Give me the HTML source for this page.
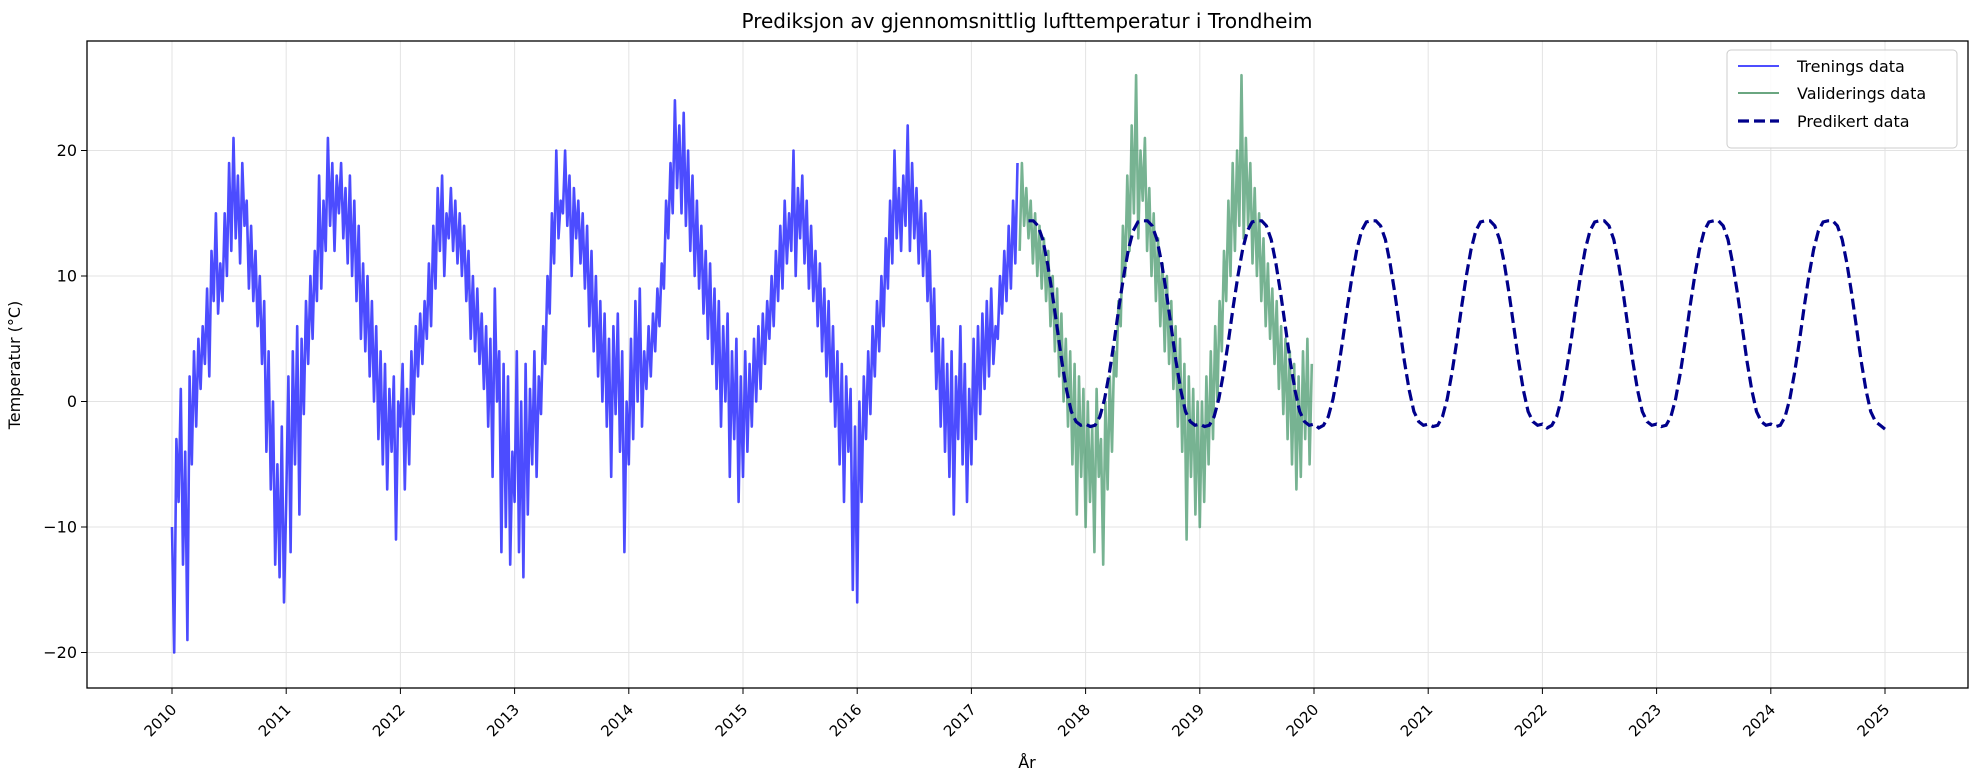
<!DOCTYPE html>
<html><head><meta charset="utf-8"><style>
body{margin:0;background:#fff;}
svg{display:block;font-family:"DejaVu Sans","Liberation Sans",sans-serif;}
</style></head><body>
<svg id="chart" width="1982" height="782" viewBox="0 0 1982 782">
<text x="1027" y="28" font-size="20" text-anchor="middle" fill="#000">Prediksjon av gjennomsnittlig lufttemperatur i Trondheim</text>
<g id="grid"></g>
<g id="series"></g>
<rect x="87" y="41" width="1881" height="647" fill="none" stroke="#000" stroke-width="1.3"/>
<g id="axes"></g>
<text x="1027" y="768" font-size="16" text-anchor="middle">År</text>
<text transform="translate(20,365) rotate(-90)" font-size="16" text-anchor="middle">Temperatur (°C)</text>
<g>
<rect x="1727" y="50" width="230" height="98" rx="4" fill="#fff" fill-opacity="0.85" stroke="#ccc"/>
<g><line x1="1738" y1="66" x2="1779" y2="66" stroke="#4d4dff" stroke-width="2"/><text x="1797" y="72" font-size="16">Trenings data</text></g>
<g><line x1="1738" y1="93" x2="1779" y2="93" stroke="#6aa680" stroke-width="2"/><text x="1797" y="99" font-size="16">Validerings data</text></g>
<g><line x1="1738" y1="121" x2="1779" y2="121" stroke="#00008b" stroke-width="3.2" stroke-dasharray="11 5"/><text x="1797" y="127" font-size="16">Predikert data</text></g>
</g>
</svg>
<script>
const xTicks=[2010,2011,2012,2013,2014,2015,2016,2017,2018,2019,2020,2021,2022,2023,2024,2025];
const yTicks=[-20,-10,0,10,20];
const trainStart=2010.0;
const trainWeekly=[
-10,-20,-3,-8,1,-13,-4,-19,2,-5,4,-2,5,1,6,3,9,2,12,8,15,7,11,8,15,10,19,12,21,13,18,11,19,14,16,9,14,8,12,6,10,3,8,-4,4,-7,0,-13,-5,-14,-2,-16,
-8,2,-12,4,-5,6,-9,5,-1,8,3,10,5,12,8,18,9,16,12,21,14,19,12,18,15,19,13,17,11,18,10,16,8,14,5,11,4,10,2,8,0,6,-3,4,-5,3,-7,1,-4,2,-11,0,
-2,3,-7,1,-5,4,-1,6,2,7,3,8,5,11,6,14,9,17,12,18,10,15,13,17,12,16,11,15,10,14,8,12,5,10,4,9,3,7,1,6,-2,5,-6,9,0,4,-12,3,-10,2,-13,-4,
-8,4,-12,0,-14,3,-9,1,-5,4,-6,2,-1,6,3,10,7,15,11,20,13,16,15,20,14,18,10,17,13,16,11,15,9,14,6,12,4,10,2,8,0,7,-2,5,-6,6,-1,7,-4,4,-12,0,
-5,5,-3,8,0,9,-2,4,1,6,2,7,4,9,6,11,9,16,13,19,15,24,17,22,15,23,14,20,12,18,10,16,9,14,7,12,5,11,3,9,1,8,-2,6,0,7,-6,4,-3,5,-8,2,
-6,4,-4,3,-2,5,0,6,1,7,3,8,5,10,6,12,8,14,9,16,11,15,12,20,10,17,13,18,11,16,9,14,8,12,6,11,4,9,2,8,0,6,-2,4,-5,3,-8,2,-4,1,-15,-2,
-16,0,-8,2,-3,4,-1,6,2,8,4,10,6,13,9,16,11,20,13,17,12,18,14,22,12,19,13,17,11,16,10,15,8,12,4,9,1,6,-2,5,-4,3,-6,4,-9,2,-3,6,-5,3,-8,1,
-5,5,-3,6,-1,7,1,8,2,9,3,6,5,10,7,12,8,14,9,16,11,19];
const valWeekly=[
12,19,14,17,13,16,11,15,10,14,9,13,8,12,6,10,4,9,2,7,0,5,-2,4,-5,3,-9,2,-6,1,
-10,0,-8,-2,-12,1,-6,-3,-13,0,-7,2,-4,4,2,8,6,14,10,18,12,22,15,26,13,20,16,21,12,17,10,15,8,13,6,11,4,10,3,8,1,6,-2,5,-4,3,-11,2,-6,1,-9,0,
-10,0,-8,2,-5,4,-3,6,0,8,4,12,8,16,10,19,12,20,14,26,13,21,14,19,11,17,10,15,8,13,6,11,5,9,3,8,1,6,-1,5,-3,4,-5,3,-7,2,-6,4,-3,5,-5,3];
const predStart=2017.5;
const predValues=[
14.4,14.4,14.0,12.9,11.0,8.6,5.9,3.2,0.9,-0.8,-1.6,-1.9,
-1.8,-2.0,-1.9,-1.2,0.2,2.3,4.8,7.5,10.0,12.1,13.6,14.3,14.4,14.4,14.0,12.9,11.0,8.6,5.9,3.2,0.9,-0.8,-1.6,-1.9,
-1.8,-2.0,-1.9,-1.2,0.2,2.3,4.8,7.5,10.0,12.1,13.6,14.3,14.4,14.4,14.0,12.9,11.0,8.6,5.9,3.2,0.9,-0.8,-1.6,-1.9,
-1.8,-2.1,-1.9,-1.2,0.2,2.3,4.8,7.5,10.0,12.1,13.6,14.3,14.4,14.4,14.0,12.9,11.0,8.6,5.9,3.2,0.9,-0.8,-1.6,-1.9,
-1.8,-2.0,-1.9,-1.2,0.2,2.3,4.8,7.5,10.0,12.1,13.6,14.3,14.4,14.4,14.0,12.9,11.0,8.6,5.9,3.2,0.9,-0.8,-1.6,-1.9,
-1.8,-2.1,-1.9,-1.2,0.2,2.3,4.8,7.5,10.0,12.1,13.6,14.3,14.4,14.4,14.0,12.9,11.0,8.6,5.9,3.2,0.9,-0.8,-1.6,-1.9,
-1.8,-2.0,-1.9,-1.2,0.2,2.3,4.8,7.5,10.0,12.1,13.6,14.3,14.4,14.4,14.0,12.9,11.0,8.6,5.9,3.2,0.9,-0.8,-1.6,-1.9,
-1.8,-2.0,-1.9,-1.2,0.2,2.3,4.8,7.5,10.0,12.1,13.6,14.3,14.4,14.4,14.0,12.9,11.0,8.6,5.9,3.2,0.9,-0.8,-1.6,-1.9,
-2.2];

const NS='http://www.w3.org/2000/svg';
const X0=172, PXY=114.2, Y0=401.5, PXD=12.55;
function xs(t){return X0+(t-2010)*PXY;}
function ys(v){return Y0-v*PXD;}
function mk(tag,attrs,parent){const e=document.createElementNS(NS,tag);for(const k in attrs)e.setAttribute(k,attrs[k]);parent.appendChild(e);return e;}
const grid=document.getElementById('grid'),axes=document.getElementById('axes'),series=document.getElementById('series');
xTicks.forEach(t=>{
  const x=xs(t);
  const g=mk('line',{x1:x,y1:41,x2:x,y2:688,stroke:'#e3e3e3','stroke-width':1},grid);
  
  
  const tk=mk('line',{x1:x,y1:688,x2:x,y2:694,stroke:'#000','stroke-width':1},axes);
  
  
  const lb=mk('text',{x:x,y:0,'font-size':15,'text-anchor':'middle',transform:`translate(${x-8},724) rotate(-45) translate(${-x},0)`},axes);
  lb.textContent=t;
  
  
});
yTicks.forEach(v=>{
  const y=ys(v);
  const g=mk('line',{x1:87,y1:y,x2:1968,y2:y,stroke:'#e3e3e3','stroke-width':1},grid);
  
  
  const tk=mk('line',{x1:81,y1:y,x2:87,y2:y,stroke:'#000','stroke-width':1},axes);
  
  
  const lb=mk('text',{x:77,y:y+5.5,'font-size':16,'text-anchor':'end'},axes);
  lb.textContent=(v<0?'\u2212'+(-v):v);
  
  
});
function path(vals,start,step){return vals.map((v,i)=>(i?'L':'M')+xs(start+i*step).toFixed(1)+' '+ys(v).toFixed(1)).join(' ');}
const tp=mk('path',{d:path(trainWeekly,trainStart,1/52),fill:'none',stroke:'#0000ff','stroke-opacity':0.7,'stroke-width':2.6,'stroke-linejoin':'round'},series);


const valStart=trainStart+trainWeekly.length/52;
const vp=mk('path',{d:path(valWeekly,valStart,1/52),fill:'none',stroke:'#2e8b57','stroke-opacity':0.65,'stroke-width':2.6,'stroke-linejoin':'round'},series);


const pp=mk('path',{d:path(predValues,predStart,1/24),fill:'none',stroke:'#00008b','stroke-width':3.2,'stroke-dasharray':'11 5'},series);


</script>
</body></html>
